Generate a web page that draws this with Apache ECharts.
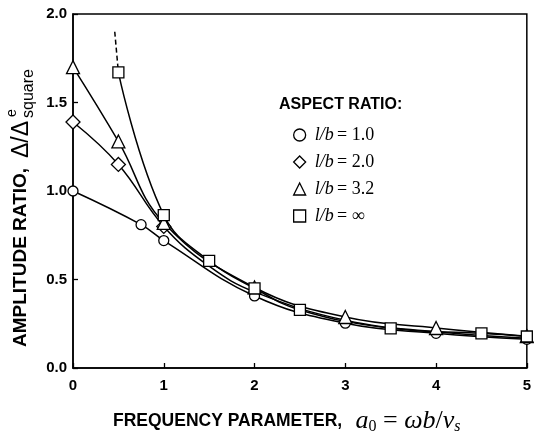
<!DOCTYPE html>
<html><head><meta charset="utf-8">
<script src="https://cdn.jsdelivr.net/npm/echarts@6/dist/echarts.min.js"></script>
<style>html,body{margin:0;padding:0;background:#fff}#c{width:534px;height:440px}</style>
</head><body><div id="c"></div>
<script>
// ---- data ----
const seriesNames = ['l/b = 1.0', 'l/b = 2.0', 'l/b = 3.2', 'l/b = ∞'];
const legendValues = ['1.0', '2.0', '3.2', '∞'];
const circleX = [0, 0.75, 1, 2, 3, 4, 5];
const circleY = [1.00, 0.81, 0.72, 0.407, 0.253, 0.196, 0.162];
const diamondX = [0, 0.5, 1, 1.5, 2, 3, 4, 5];
const diamondY = [1.39, 1.15, 0.80, 0.575, 0.43, 0.27, 0.205, 0.168];
const diamondMarked = [true, true, true, false, false, false, false, false];
const triangleX = [0, 0.5, 1, 2, 3, 4, 5];
const triangleY = [1.70, 1.28, 0.82, 0.455, 0.288, 0.226, 0.18];
const squareX = [0.5, 1, 1.5, 2, 2.5, 3.5, 4.5, 5];
const squareY = [1.67, 0.864, 0.605, 0.45, 0.328, 0.224, 0.196, 0.178];
const squareDashX = [0.46, 0.5];
const squareDashY = [1.90, 1.67];
const xTickLabels = ['0', '1', '2', '3', '4', '5'];
const yTickLabels = ['0.0', '0.5', '1.0', '1.5', '2.0'];

const SANS = '"Liberation Sans", Arial, Helvetica, sans-serif';
const SERIF = '"Liberation Serif", "Times New Roman", serif';

function mk(name, xs, ys, symbol, size, marked) {
  return {
    type: 'line', name: name,
    data: xs.map((x, i) => {
      const d = { value: [x, ys[i]] };
      if (marked && !marked[i]) d.symbol = 'none';
      return d;
    }),
    symbol: symbol, symbolSize: size, showAllSymbol: true,
    smooth: 0.42,
    lineStyle: { color: '#000', width: 1.5 },
    itemStyle: { color: '#fff', borderColor: '#000', borderWidth: 1.3 },
    emphasis: { disabled: true },
    animation: false, z: 3
  };
}

const series = [
  mk(seriesNames[0], circleX, circleY, 'circle', 10),
  mk(seriesNames[1], diamondX, diamondY, 'diamond', 14, diamondMarked),
  mk(seriesNames[2], triangleX, triangleY, 'triangle', 13),
  mk(seriesNames[3], squareX, squareY, 'rect', 11),
  {
    type: 'line', name: 'dash',
    data: squareDashX.map((x, i) => [x, squareDashY[i]]),
    symbol: 'none', lineStyle: { color: '#000', width: 1.5, type: [5, 3] },
    animation: false, z: 2
  }
];

const icons = ['circle', 'diamond', 'triangle', 'rect'];

const option = {
  backgroundColor: '#fff',
  animation: false,
  grid: { left: 73, right: 2, top: 14, bottom: 72, show: true, borderColor: '#000', borderWidth: 1.5 },
  xAxis: {
    type: 'value', min: 0, max: 5, interval: 1,
    axisLine: { show: true, lineStyle: { color: '#000', width: 1.5 } },
    axisTick: { show: true, inside: true, length: 5, lineStyle: { color: '#000', width: 1.3 } },
    axisLabel: { color: '#000', fontFamily: SANS, fontWeight: 'bold', fontSize: 15, margin: 10,
      formatter: v => xTickLabels[Math.round(v)] },
    splitLine: { show: false }
  },
  yAxis: {
    type: 'value', min: 0, max: 2, interval: 0.5,
    axisLine: { show: true, lineStyle: { color: '#000', width: 1.5 } },
    axisTick: { show: true, inside: true, length: 5, lineStyle: { color: '#000', width: 1.3 } },
    axisLabel: { color: '#000', fontFamily: SANS, fontWeight: 'bold', fontSize: 15, margin: 6,
      formatter: v => yTickLabels[Math.round(v * 2)] },
    splitLine: { show: false }
  },
  legend: {
    orient: 'vertical', left: 293, top: 126, padding: 0,
    itemWidth: 12, itemHeight: 12, itemGap: 9,
    data: seriesNames.map((n, i) => ({ name: n, icon: icons[i] })),
    itemStyle: { color: '#fff', borderColor: '#000', borderWidth: 1.3 },
    selectedMode: false,
    formatter: name => '{i|l/b} {n|= ' + legendValues[seriesNames.indexOf(name)] + '}',
    textStyle: {
      rich: {
        i: { fontFamily: SERIF, fontStyle: 'italic', fontSize: 18, lineHeight: 18, color: '#000', padding: [0, 0, 0, 4] },
        n: { fontFamily: SERIF, fontSize: 18, lineHeight: 18, color: '#000' }
      }
    }
  },
  graphic: [
    { type: 'text', left: 279, top: 97,
      style: { text: 'ASPECT RATIO:', font: 'bold 16px ' + SANS, fill: '#000' } },
    { type: 'text', left: 113, top: 408,
      style: {
        text: '{b|FREQUENCY PARAMETER,}    {i|a}{s|0}{n| = }{i|ωb}{n|/}{i|v}{si|s}',
        rich: {
          b: { fontFamily: SANS, fontWeight: 'bold', fontSize: 17.5, lineHeight: 28, fill: '#000' },
          i: { fontFamily: SERIF, fontStyle: 'italic', fontSize: 26, lineHeight: 28, fill: '#000' },
          n: { fontFamily: SERIF, fontSize: 26, lineHeight: 28, fill: '#000' },
          s: { fontFamily: SERIF, fontSize: 16, lineHeight: 16, verticalAlign: 'bottom', fill: '#000' },
          si: { fontFamily: SERIF, fontStyle: 'italic', fontSize: 16, lineHeight: 16, verticalAlign: 'bottom', fill: '#000' }
        }
      } },
    { type: 'group', x: 21, y: 347, rotation: Math.PI / 2,
      children: [
        { type: 'text', x: 0, y: 0,
          style: { text: 'AMPLITUDE RATIO,', font: 'bold 19px ' + SANS, fill: '#000', align: 'left', verticalAlign: 'middle' } },
        { type: 'text', x: 189, y: 1,
          style: { text: 'Δ/Δ', font: '23px ' + SANS, fill: '#000', align: 'left', verticalAlign: 'middle' } },
        { type: 'text', x: 230, y: -9,
          style: { text: 'e', font: '14px ' + SANS, fill: '#000', align: 'left', verticalAlign: 'middle' } },
        { type: 'text', x: 229, y: 8,
          style: { text: 'square', font: '16px ' + SANS, fill: '#000', align: 'left', verticalAlign: 'middle' } }
      ] }
  ],
  series: series
};

const chart = echarts.init(document.getElementById('c'), null, { renderer: 'canvas' });
chart.setOption(option);
</script>
</body></html>
